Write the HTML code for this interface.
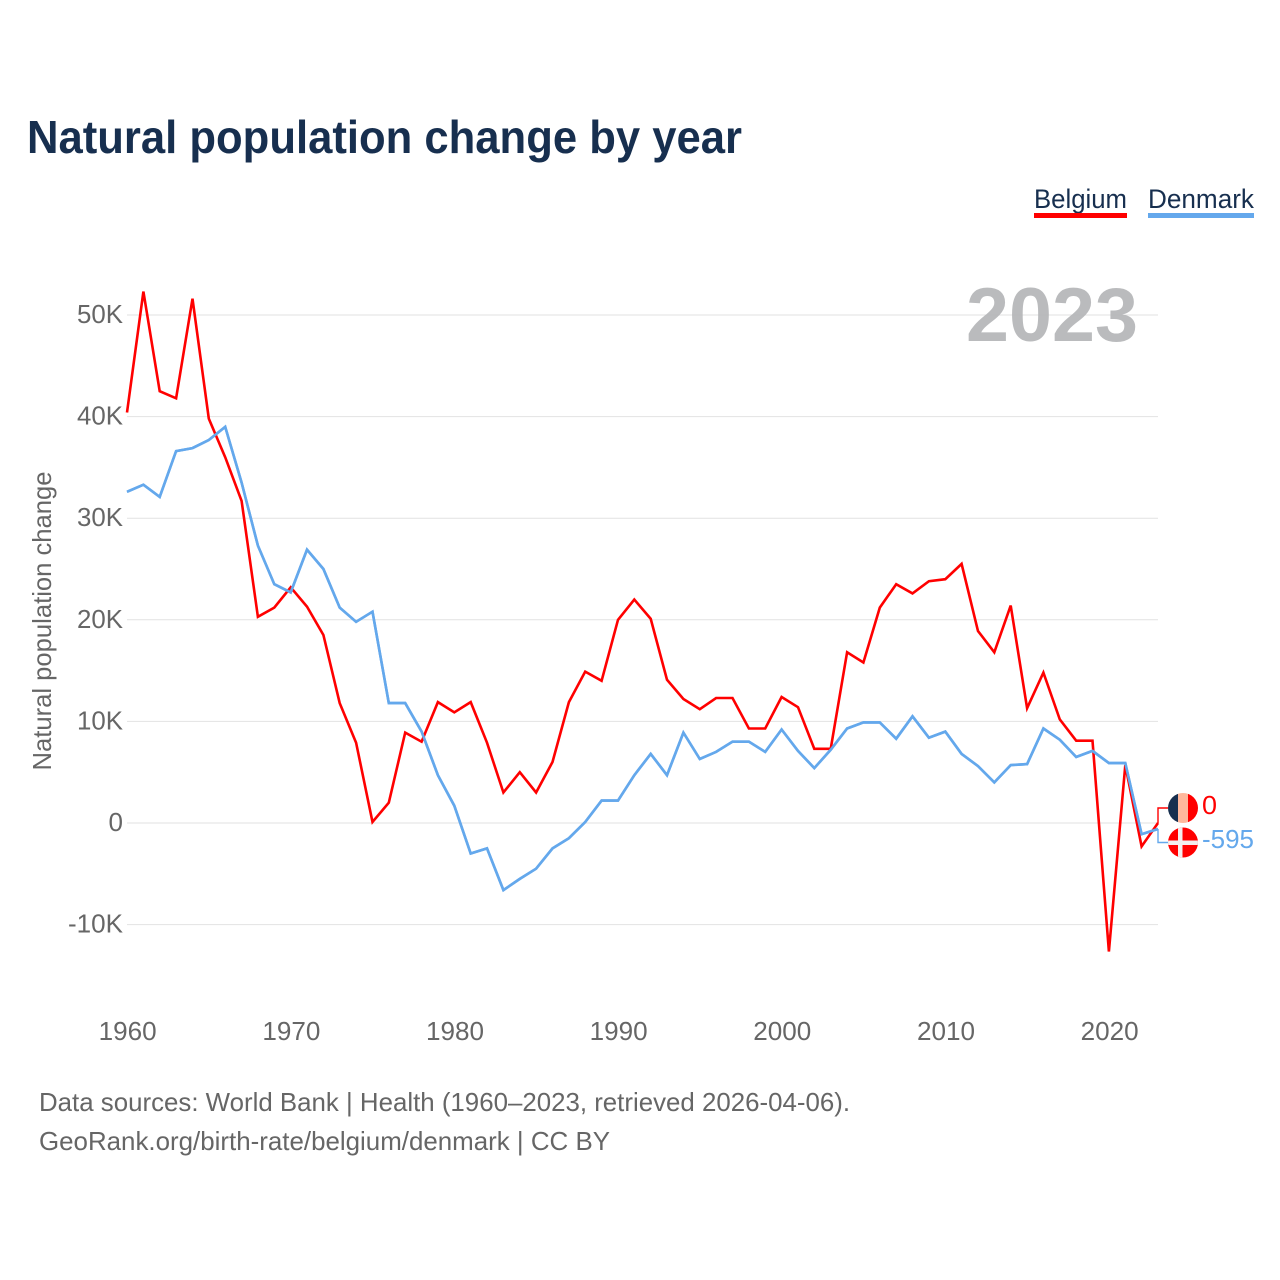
<!DOCTYPE html>
<html>
<head>
<meta charset="utf-8">
<title>Natural population change by year</title>
<style>
html,body{margin:0;padding:0;background:#fff;}
svg{display:block;font-family:"Liberation Sans",sans-serif;}
</style>
</head>
<body>
<svg id="chart" width="1280" height="1280" viewBox="0 0 1280 1280" xmlns="http://www.w3.org/2000/svg">
  <rect width="1280" height="1280" fill="#fff"/>
  <text x="27" y="153" font-size="46" font-weight="700" fill="#172f4f" textLength="715" lengthAdjust="spacingAndGlyphs">Natural population change by year</text>

  <g>
    <text x="1034" y="208" font-size="27" fill="#172f4f" textLength="93" lengthAdjust="spacingAndGlyphs">Belgium</text>
    <rect x="1034" y="213" width="93" height="5" fill="#ff0000"/>
  </g>
  <g>
    <text x="1148" y="208" font-size="27" fill="#172f4f" textLength="106" lengthAdjust="spacingAndGlyphs">Denmark</text>
    <rect x="1148" y="213" width="106" height="5" fill="#64a8ec"/>
  </g>

  <g id="grid"></g>
  <text x="1138" y="341" text-anchor="end" font-size="76" font-weight="700" fill="#b4b5b7" fill-opacity="0.92" textLength="172" lengthAdjust="spacingAndGlyphs">2023</text>
  <g id="yticks"></g>
  <g id="xticks"></g>
  <text transform="translate(51,621) rotate(-90)" text-anchor="middle" font-size="26" fill="#666666" textLength="299" lengthAdjust="spacingAndGlyphs">Natural population change</text>

  <polyline id="line-denmark" fill="none" stroke="#64a8ec" stroke-width="2.6" stroke-linejoin="miter"/>
  <polyline id="line-belgium" fill="none" stroke="#ff0000" stroke-width="2.6" stroke-linejoin="miter"/>
  <polyline id="line-denmark-top" fill="none" stroke="#64a8ec" stroke-width="2.6"/>

  <path id="leader-belgium" fill="none" stroke="#ff0000" stroke-width="1.4"/>
  <path id="leader-denmark" fill="none" stroke="#64a8ec" stroke-width="1.4"/>

  <defs>
    <clipPath id="clip-be"><circle cx="1183" cy="808" r="15"/></clipPath>
    <clipPath id="clip-dk"><circle cx="1183" cy="842.500" r="15"/></clipPath>
  </defs>
  <g clip-path="url(#clip-be)">
    <rect x="1168" y="793" width="10" height="30" fill="#172f4f"/>
    <rect x="1178" y="793" width="10" height="30" fill="#ffb89c"/>
    <rect x="1188" y="793" width="10" height="30" fill="#ff0000"/>
  </g>
  <g clip-path="url(#clip-dk)">
    <rect x="1168" y="827" width="30" height="31" fill="#ff0000"/>
    <rect x="1178" y="827" width="4.500" height="31" fill="#f4eeee"/>
    <rect x="1168" y="840.500" width="30" height="4.500" fill="#f4eeee"/>
  </g>
  <text id="end-value-belgium" x="1202" y="814" font-size="26" fill="#ff0000" textLength="15" lengthAdjust="spacingAndGlyphs"></text>
  <text id="end-value-denmark" x="1202" y="848" font-size="26" fill="#64a8ec" textLength="52" lengthAdjust="spacingAndGlyphs"></text>

  <text x="39" y="1111" font-size="26" fill="#666666" textLength="811" lengthAdjust="spacingAndGlyphs">Data sources: World Bank | Health (1960–2023, retrieved 2026-04-06).</text>
  <text x="39" y="1150" font-size="26" fill="#666666" textLength="571" lengthAdjust="spacingAndGlyphs">GeoRank.org/birth-rate/belgium/denmark | CC BY</text>
</svg>
<script>
const startYear = 1960;
const belgium = [40400,52300,42500,41800,51600,39800,36000,31700,20300,21200,23200,21300,18500,11800,7900,100,2000,8900,8000,11900,10900,11900,7900,3000,5000,3000,6000,11900,14900,14000,20000,22000,20100,14100,12200,11200,12300,12300,9300,9300,12400,11400,7300,7300,16800,15800,21200,23500,22600,23800,24000,25500,18900,16800,21400,11300,14800,10200,8100,8100,-12650,5700,-2300,0];
const denmark = [32600,33300,32100,36600,36900,37700,39000,33500,27300,23500,22700,26900,25000,21200,19800,20800,11800,11800,9000,4700,1700,-3000,-2500,-6600,-5500,-4500,-2500,-1500,100,2200,2200,4700,6800,4700,8900,6300,7000,8000,8000,7000,9200,7100,5400,7200,9300,9900,9900,8300,10500,8400,9000,6800,5600,4000,5700,5800,9300,8200,6500,7100,5900,5900,-1100,-595];
const yTickValues = [-10000,0,10000,20000,30000,40000,50000];
const yTickLabels = ["-10K","0","10K","20K","30K","40K","50K"];
const xTickYears = [1960,1970,1980,1990,2000,2010,2020];

const NS = "http://www.w3.org/2000/svg";
function xScale(index) { return 127 + index * (1158 - 127) / 63; }
function yScale(value) { return 823 - value * 508 / 50000; }

const gridGroup = document.getElementById("grid");
const yGroup = document.getElementById("yticks");
const xGroup = document.getElementById("xticks");

yTickValues.forEach(function (v, i) {
  const line = document.createElementNS(NS, "line");
  
  
  line.setAttribute("x1", 127);
  line.setAttribute("x2", 1158);
  line.setAttribute("y1", yScale(v));
  line.setAttribute("y2", yScale(v));
  line.setAttribute("stroke", "#e2e2e2");
  line.setAttribute("stroke-width", "1");
  gridGroup.appendChild(line);

  const label = document.createElementNS(NS, "text");
  
  
  label.setAttribute("x", 123);
  label.setAttribute("y", yScale(v) + 8);
  label.setAttribute("text-anchor", "end");
  label.setAttribute("font-size", "26");
  label.setAttribute("fill", "#666666");
  label.textContent = yTickLabels[i];
  if (yTickLabels[i].length > 1) {
    label.setAttribute("textLength", yTickLabels[i].length === 4 ? 55 : 46);
    label.setAttribute("lengthAdjust", "spacingAndGlyphs");
  }
  yGroup.appendChild(label);
});

xTickYears.forEach(function (yr) {
  const label = document.createElementNS(NS, "text");
  
  
  label.setAttribute("x", xScale(yr - startYear) + 0.7);
  label.setAttribute("y", 1040);
  label.setAttribute("text-anchor", "middle");
  label.setAttribute("font-size", "26");
  label.setAttribute("fill", "#666666");
  label.setAttribute("textLength", "58");
  label.setAttribute("lengthAdjust", "spacingAndGlyphs");
  label.textContent = String(yr);
  xGroup.appendChild(label);
});

function toPoints(values) {
  return values.map(function (v, i) {
    return xScale(i).toFixed(1) + "," + yScale(v).toFixed(1);
  }).join(" ");
}
document.getElementById("line-belgium").setAttribute("points", toPoints(belgium));
document.getElementById("line-denmark").setAttribute("points", toPoints(denmark));
document.getElementById("line-denmark-top").setAttribute("points", toPoints(denmark));

const endX = xScale(63);
const beEnd = yScale(belgium[63]);
const dkEnd = yScale(denmark[63]);
document.getElementById("leader-belgium").setAttribute("d", "M" + endX + " " + beEnd + "V808H1168");
document.getElementById("leader-denmark").setAttribute("d", "M" + endX + " " + dkEnd + "V842.5H1168");
document.getElementById("end-value-belgium").textContent = String(belgium[63]);
document.getElementById("end-value-denmark").textContent = String(denmark[63]);
</script>
</body>
</html>
